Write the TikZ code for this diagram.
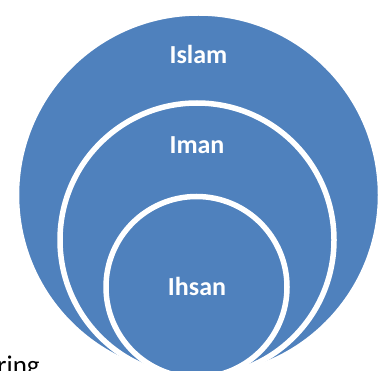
\documentclass[tikz,border=0pt]{standalone}
\usepackage{fontspec}
\setmainfont{Carlito}
\definecolor{accentblue}{HTML}{4F81BD}
\begin{document}
\begin{tikzpicture}[x=1pt,y=-1pt,
  ringcircle/.style={circle, fill=accentblue, draw=white, line width=5.5pt, inner sep=0pt, outer sep=0pt},
  ringlabel/.style={text=white, font=\fontsize{26}{30}\selectfont\bfseries, anchor=base, inner sep=0pt}]
\useasboundingbox (0,0) rectangle (390,371);
\clip (0,0) rectangle (390,371);
\node[font=\fontsize{27}{32}\selectfont, anchor=base west, inner sep=0pt] (ring) at (-3,374.5) {ring};
\node[ringcircle, minimum size=364pt] (outer) at (198.5,195) {};
\node[ringcircle, minimum size=274pt] (middle) at (197,240) {};
\node[ringcircle, minimum size=181pt] (inner) at (196.5,287) {};
\node[ringlabel] (islam) at (198.5,64) {Islam};
\node[ringlabel] (iman) at (197,153.3) {Iman};
\node[ringlabel] (ihsan) at (197,295) {Ihsan};
\end{tikzpicture}
\end{document}
